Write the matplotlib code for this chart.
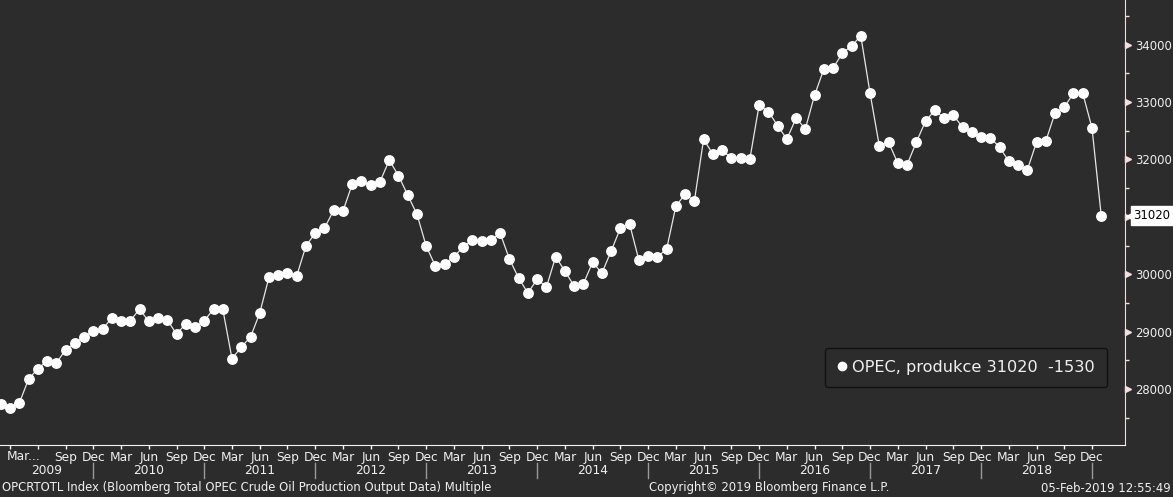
import numpy as np
import matplotlib
matplotlib.use('Agg')
import matplotlib.pyplot as plt
from matplotlib.lines import Line2D

matplotlib.rcParams['font.family'] = 'DejaVu Sans'

# OPEC crude oil production, monthly, Feb 2009 .. Jan 2019 (thousand barrels/day)
first_year, first_month = 2009, 2
opec = [
    27744, 27669, 27757, 28174, 28354, 28493, 28453, 28685, 28801, 28906, 29015,
    29045, 29237, 29178, 29190, 29393, 29178, 29237, 29207, 28958, 29137, 29073, 29190,
    29393, 29393, 28528, 28732, 28906, 29324, 29950, 29990, 30020, 29973, 30495, 30716,
    30803, 31117, 31100, 31570, 31622, 31552, 31610, 31987, 31720, 31378, 31047, 30490,
    30142, 30182, 30304, 30478, 30595, 30577, 30595, 30716, 30264, 29933, 29672, 29916,
    29776, 30304, 30055, 29794, 29834, 30211, 30020, 30403, 30803, 30873, 30246, 30321,
    30304, 30438, 31186, 31395, 31274, 32353, 32092, 32162, 32022, 32033, 32005, 32945,
    32834, 32590, 32353, 32719, 32532, 33119, 33572, 33589, 33850, 33977, 34151, 33154,
    32236, 32300, 31935, 31906, 32300, 32666, 32858, 32719, 32771, 32562, 32475, 32393,
    32381, 32214, 31970, 31900, 31813, 32300, 32318, 32806, 32910, 33154, 33154, 32550,
    31020,
]
month_names = ['Mar', 'Jun', 'Sep', 'Dec']
years = list(range(2009, 2019))
y_major = [28000, 29000, 30000, 31000, 32000, 33000, 34000]
y_labels = ['28000', '29000', '30000', '', '32000', '33000', '34000']
legend_label = 'OPEC, produkce 31020  -1530'
footer_left = 'OPCRTOTL Index (Bloomberg Total OPEC Crude Oil Production Output Data) Multiple'
footer_mid = 'Copyright\u00a9 2019 Bloomberg Finance L.P.'
footer_right = '05-Feb-2019 12:55:49'

BG = '#2c2c2c'
AX_PINK = '#f2dede'
TXT = '#f0f0f0'
FS = 8.8

# x = months counted from end of Dec 2008 (month-end positions)
x0 = (first_year - 2009) * 12 + first_month
xs = np.arange(x0, x0 + len(opec))

fig = plt.figure(figsize=(11.73, 4.97), dpi=100, facecolor=BG)
ax = fig.add_axes([0, 52 / 497, 1125 / 1173, 445 / 497], facecolor=BG)

ax.plot(xs, opec, color='#e6e6e6', lw=0.9, marker='o', ms=6.8,
        mfc='white', mec='white', zorder=3)

ax.set_xlim(1.91, 123.57)
ax.set_ylim(27026, 34777)

for s in ['top', 'left']:
    ax.spines[s].set_visible(False)
ax.spines['bottom'].set_color('#f4f4f4')
ax.spines['right'].set_color(AX_PINK)

# x axis: quarter ticks
qticks = list(range(3, 121, 3))
qlabels = [month_names[(t // 3 - 1) % 4] for t in qticks]
qlabels[0] = ''
qlabels[1] = ''
ax.set_xticks(qticks)
ax.set_xticklabels(qlabels)
ax.tick_params(axis='x', colors='#f4f4f4', length=3, width=1, pad=1.2,
               labelsize=FS, labelcolor=TXT)
ax.text(3 - 0.35, -0.0106, 'Mar...', transform=ax.get_xaxis_transform(),
        ha='left', va='top', fontsize=FS, color=TXT)

xl = ax.get_xlim()
for i, yr in enumerate(years):
    a = max((yr - 2009) * 12, xl[0])
    b = (yr - 2009) * 12 + 12
    ax.text((a + b) / 2, -0.058, str(yr), transform=ax.get_xaxis_transform(),
            ha='center', va='center', fontsize=FS, color=TXT)
    ax.plot([b, b], [-0.04, -0.075], transform=ax.get_xaxis_transform(),
            color='#9a9a9a', lw=1, clip_on=False)

# y axis on the right
ax.yaxis.tick_right()
ax.set_yticks(y_major)
ax.set_yticklabels(y_labels)
ax.set_yticks([v + 500 for v in [27000] + y_major], minor=True)
ax.tick_params(axis='y', which='major', length=0, pad=7, labelsize=8.4, labelcolor=TXT)
ax.tick_params(axis='y', which='minor', length=3, color=AX_PINK, width=1)
ax.plot([1.003] * len(y_major), y_major, ls='none', marker='>', ms=4.5,
        color=AX_PINK, transform=ax.get_yaxis_transform(), clip_on=False)

# last value tag
last = opec[-1]
ax.plot([1.006], [last], marker='<', ms=8, color='white', ls='none',
        transform=ax.get_yaxis_transform(), clip_on=False)
ax.text(1.0075, last, str(last), transform=ax.get_yaxis_transform(),
        ha='left', va='center', fontsize=8.4, color='black',
        bbox=dict(boxstyle='square,pad=0.25', fc='white', ec='white'))

# legend
h = Line2D([], [], ls='none', marker='o', ms=6, mfc='white', mec='white')
leg = ax.legend([h], [legend_label], loc='lower right',
                bbox_to_anchor=(0.984, 0.13), fontsize=11.6, frameon=True,
                fancybox=True, handlelength=0.6, handletextpad=0.35,
                borderpad=0.75, borderaxespad=0)
leg.get_frame().set_facecolor(BG)
leg.get_frame().set_edgecolor('#111111')
leg.get_frame().set_alpha(1)
for t in leg.get_texts():
    t.set_color(TXT)

# footer
fig.text(2 / 1173, 9 / 497, footer_left, ha='left', va='center', fontsize=8.4, color=TXT)
fig.text(649 / 1173, 9 / 497, footer_mid, ha='left', va='center', fontsize=8.4, color=TXT)
fig.text(1171 / 1173, 9 / 497, footer_right, ha='right', va='center', fontsize=8.4, color=TXT)

fig.savefig('out.png', dpi=100, facecolor=BG)
